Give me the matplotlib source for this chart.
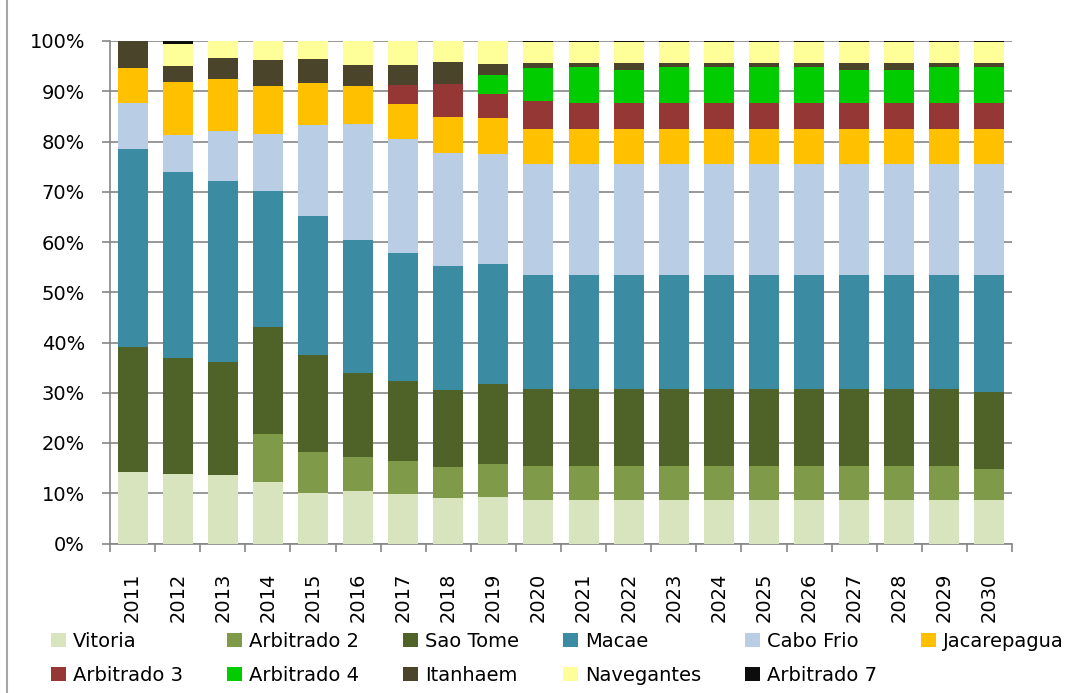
import numpy as np
import matplotlib.pyplot as plt
from matplotlib.lines import Line2D
from matplotlib.patches import Patch
from matplotlib.ticker import PercentFormatter, FixedLocator

# Share of each base per year (in %)
years = [2011, 2012, 2013, 2014, 2015, 2016, 2017, 2018, 2019, 2020,
         2021, 2022, 2023, 2024, 2025, 2026, 2027, 2028, 2029, 2030]

vitoria = [14.2, 13.8, 13.6, 12.2, 10.1, 10.5, 9.8, 9.0, 9.3, 8.7,
           8.7, 8.7, 8.7, 8.7, 8.7, 8.7, 8.7, 8.7, 8.7, 8.7]
arbitrado_2 = [0.0, 0.0, 0.0, 9.6, 8.1, 6.7, 6.6, 6.2, 6.5, 6.8,
               6.8, 6.8, 6.8, 6.8, 6.8, 6.8, 6.8, 6.8, 6.8, 6.2]
sao_tome = [24.9, 23.2, 22.6, 21.2, 19.3, 16.7, 16.0, 15.4, 15.9, 15.2,
            15.2, 15.2, 15.2, 15.2, 15.2, 15.2, 15.2, 15.2, 15.2, 15.2]
macae = [39.5, 36.9, 36.0, 27.2, 27.7, 26.4, 25.5, 24.7, 24.0, 22.8,
         22.8, 22.8, 22.8, 22.8, 22.8, 22.8, 22.8, 22.8, 22.8, 23.4]
cabo_frio = [9.0, 7.4, 9.9, 11.2, 18.0, 23.2, 22.5, 22.5, 21.9, 22.1,
             22.0, 22.0, 22.0, 22.0, 22.0, 22.0, 22.0, 22.0, 22.0, 22.0]
jacarepagua = [7.0, 10.6, 10.3, 9.6, 8.5, 7.5, 7.1, 7.0, 7.0, 6.9,
               6.9, 6.9, 6.9, 6.9, 6.9, 6.9, 6.9, 6.9, 6.9, 6.9]
arbitrado_3 = [0.0, 0.0, 0.0, 0.0, 0.0, 0.0, 3.8, 6.7, 4.9, 5.6,
               5.3, 5.3, 5.3, 5.3, 5.3, 5.3, 5.3, 5.3, 5.3, 5.3]
arbitrado_4 = [0.0, 0.0, 0.0, 0.0, 0.0, 0.0, 0.0, 0.0, 3.8, 6.6,
               7.1, 6.5, 7.1, 7.1, 7.1, 7.1, 6.5, 6.5, 7.1, 7.1]
itanhaem = [5.4, 3.2, 4.3, 5.3, 4.8, 4.2, 3.9, 4.3, 2.2, 1.0,
            0.9, 1.5, 0.9, 0.9, 0.9, 0.9, 1.5, 1.5, 0.9, 0.9]
navegantes = [0.0, 4.4, 3.3, 3.7, 3.5, 4.8, 4.8, 4.2, 4.5, 4.1,
              4.1, 4.1, 4.1, 4.1, 4.1, 4.1, 4.1, 4.1, 4.1, 4.1]
arbitrado_7 = [0.0, 0.5, 0.0, 0.0, 0.0, 0.0, 0.0, 0.0, 0.0, 0.2,
               0.2, 0.2, 0.2, 0.2, 0.2, 0.2, 0.2, 0.2, 0.2, 0.2]

series = [
    ('Vitoria', vitoria, '#D7E4BD'),
    ('Arbitrado 2', arbitrado_2, '#7F9A48'),
    ('Sao Tome', sao_tome, '#4F6228'),
    ('Macae', macae, '#3B8BA3'),
    ('Cabo Frio', cabo_frio, '#B9CDE5'),
    ('Jacarepagua', jacarepagua, '#FFC000'),
    ('Arbitrado 3', arbitrado_3, '#953735'),
    ('Arbitrado 4', arbitrado_4, '#00CC00'),
    ('Itanhaem', itanhaem, '#4A452A'),
    ('Navegantes', navegantes, '#FFFF99'),
    ('Arbitrado 7', arbitrado_7, '#0D0D0D'),
]

plt.rcParams['font.family'] = ['DejaVu Sans']
plt.rcParams['font.size'] = 14

# 100% stacked: normalise each year
vals = np.array([s[1] for s in series], dtype=float)
vals = vals / vals.sum(axis=0) * 100.0

fig = plt.figure(figsize=(10.7, 6.93), dpi=100)
W, H = 1070, 693
ax = fig.add_axes([110 / W, 1 - 543.5 / H, 902 / W, 502.5 / H])

x = np.arange(len(years))
bottom = np.zeros(len(years))
handles = []
for (name, _, color), v in zip(series, vals):
    ax.bar(x, v, bottom=bottom, width=0.665, color=color,
           edgecolor='none', zorder=3)
    bottom += v
    handles.append(Patch(facecolor=color, edgecolor='none', label=name))

grid_c = '#868686'
ax.set_xlim(-0.5, len(years) - 0.5)
ax.set_ylim(0, 100)
ax.set_yticks(np.arange(0, 101, 10))
ax.yaxis.set_major_formatter(PercentFormatter(decimals=0))
ax.yaxis.grid(True, color=grid_c, lw=1.2, zorder=0)
ax.set_axisbelow(True)

ax.set_xticks(x)
ax.set_xticklabels([str(y) for y in years], rotation=90, va='top')
ax.xaxis.set_minor_locator(FixedLocator(np.arange(-0.5, len(years), 1.0)))
ax.tick_params(axis='x', which='major', length=0, pad=21)
ax.tick_params(axis='x', which='minor', length=6, width=1.2, color=grid_c,
               direction='out')
ax.tick_params(axis='y', length=6, width=1.2, color=grid_c, pad=12)

for side in ['top', 'right']:
    ax.spines[side].set_visible(False)
for side in ['left', 'bottom']:
    ax.spines[side].set_color(grid_c)
    ax.spines[side].set_linewidth(1.2)

# legend: row-wise order in the original -> column-major for matplotlib
order = [0, 6, 1, 7, 2, 8, 3, 9, 4, 10, 5]
fig.legend([handles[i] for i in order], [handles[i].get_label() for i in order],
           ncol=6, loc='upper left', bbox_to_anchor=(51 / W, 1 - 632 / H),
           frameon=False, borderpad=0, borderaxespad=0,
           handlelength=0.77, handleheight=0.77, handletextpad=0.36,
           columnspacing=2.26, labelspacing=0.75, fontsize=14)

# chart-area border (left edge visible only)
fig.add_artist(Line2D([7 / W, 7 / W], [0, 1], color='#A6A6A6', lw=1.5))

fig.savefig('out.png', dpi=100)
